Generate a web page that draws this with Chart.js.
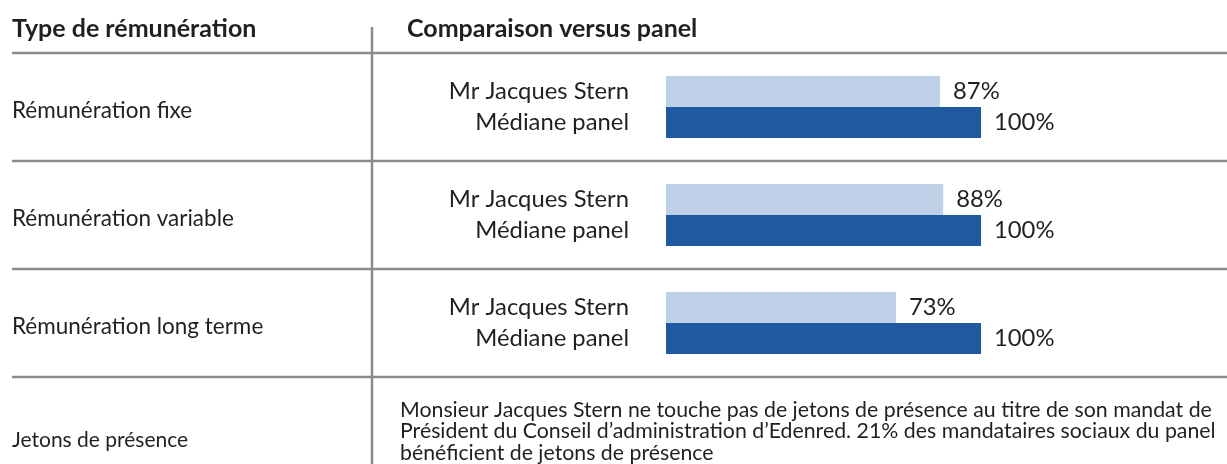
<!DOCTYPE html>
<html lang="fr">
<head>
<meta charset="UTF-8">
<title>Comparaison versus panel</title>
<script src="https://cdn.jsdelivr.net/npm/chart.js"></script>
<style>
  html, body { margin: 0; padding: 0; background: #fff; }
  #wrap { position: relative; width: 1227px; height: 464px; }
</style>
</head>
<body>
<div id="wrap"><canvas id="chart"></canvas></div>
<script>
// remuneration types (rows) and the two compared series
const categories = ['Rémunération fixe', 'Rémunération variable', 'Rémunération long terme'];
const seriesLabels = ['Mr Jacques Stern', 'Médiane panel'];
const jacquesStern = [87, 88, 73];
const medianePanel = [100, 100, 100];

const headers = ['Type de rémunération', 'Comparaison versus panel'];
const lastRowLabel = 'Jetons de présence';
const lastRowText = [
  'Monsieur Jacques Stern ne touche pas de jetons de présence au titre de son mandat de',
  'Président du Conseil d’administration d’Edenred. 21% des mandataires sociaux du panel',
  'bénéficient de jetons de présence'
];

const FONT = 'Lato, "Open Sans", sans-serif';
const TEXT = '#231f20';
const RULE = '#8c8c8c';

const tablePlugin = {
  id: 'table',
  beforeDatasetsDraw(chart) {
    const { ctx, chartArea, scales } = chart;
    const y = scales.y;
    const half = (y.getPixelForValue(1) - y.getPixelForValue(0)) / 2;
    ctx.save();
    ctx.strokeStyle = RULE;
    ctx.lineWidth = 2.5;
    // horizontal rules: header line, then one under each row
    const rules = [chartArea.top];
    categories.forEach((c, i) => rules.push(y.getPixelForValue(i) + half));
    rules.forEach(py => {
      ctx.beginPath();
      ctx.moveTo(12, py);
      ctx.lineTo(chart.width, py);
      ctx.stroke();
    });
    // column separator
    ctx.beginPath();
    ctx.moveTo(372, 27);
    ctx.lineTo(372, chart.height);
    ctx.stroke();
    ctx.restore();
  },
  afterDatasetsDraw(chart) {
    const { ctx, chartArea, scales } = chart;
    const y = scales.y;
    ctx.save();
    ctx.fillStyle = TEXT;
    ctx.textBaseline = 'alphabetic';

    ctx.font = 'bold 25px ' + FONT;
    ctx.textAlign = 'left';
    ctx.fillText(headers[0], 12, 37);
    ctx.fillText(headers[1], 407, 37);

    ctx.font = '22.5px ' + FONT;
    ctx.textBaseline = 'middle';
    categories.forEach((c, i) => {
      ctx.fillText(c, 12, y.getPixelForValue(i) + 4);
    });

    ctx.font = '23.8px ' + FONT;
    chart.data.datasets.forEach((ds, di) => {
      const meta = chart.getDatasetMeta(di);
      meta.data.forEach((bar, i) => {
        ctx.textAlign = 'right';
        ctx.fillText(seriesLabels[di], 629, bar.y);
        ctx.textAlign = 'left';
        ctx.fillText(ds.data[i] + '%', bar.x + 13, bar.y);
      });
    });

    ctx.textAlign = 'left';
    ctx.font = '21px ' + FONT;
    ctx.fillText(lastRowLabel, 12, 440);
    ctx.font = '21.3px ' + FONT;
    lastRowText.forEach((line, i) => {
      ctx.fillText(line, 400, chartArea.bottom + 33 + i * 21.5);
    });
    ctx.restore();
  }
};

new Chart(document.getElementById('chart'), {
  type: 'bar',
  data: {
    labels: categories,
    datasets: [
      { label: seriesLabels[0], data: jacquesStern, backgroundColor: '#bfd1e8' },
      { label: seriesLabels[1], data: medianePanel, backgroundColor: '#1f5aa0' }
    ]
  },
  options: {
    indexAxis: 'y',
    responsive: true,
    maintainAspectRatio: false,
    animation: false,
    layout: { padding: { left: 666, right: 246, top: 53, bottom: 87 } },
    datasets: { bar: { categoryPercentage: 0.575, barPercentage: 1 } },
    scales: {
      x: { display: false, min: 0, max: 100 },
      y: { display: false }
    },
    plugins: { legend: { display: false }, tooltip: { enabled: false } }
  },
  plugins: [tablePlugin]
});
</script>
</body>
</html>
